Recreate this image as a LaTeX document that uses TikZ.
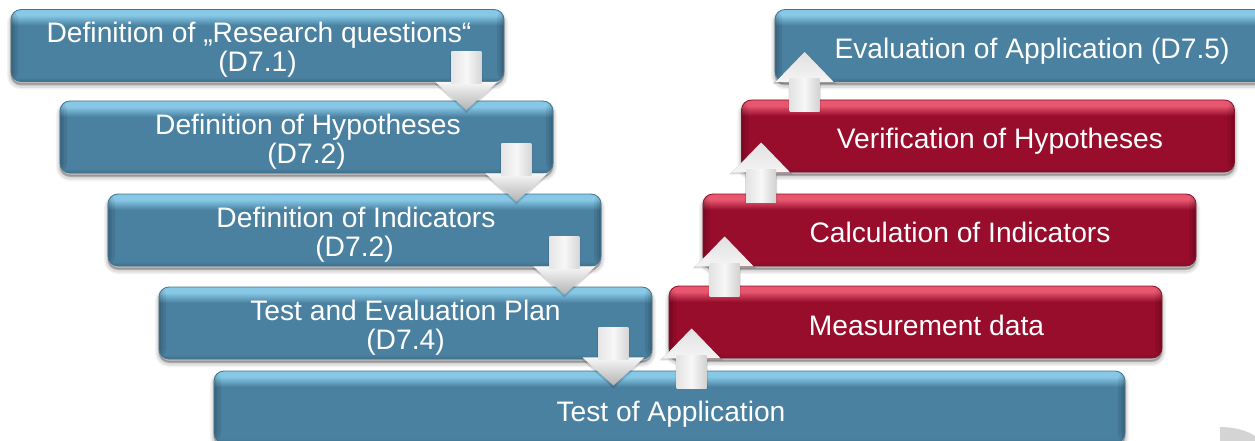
\documentclass[tikz,border=0pt]{standalone}
\usepackage{fontspec}
\setmainfont{Liberation Sans}
\usetikzlibrary{calc}
\definecolor{bluetop}{HTML}{86C8E6}
\definecolor{bluemid}{HTML}{4A80A0}
\definecolor{bluelow}{HTML}{3F6F8B}
\definecolor{blueedge}{HTML}{44748F}
\definecolor{redtop}{HTML}{E8566F}
\definecolor{redmid}{HTML}{980C2C}
\definecolor{redlow}{HTML}{7E1028}
\definecolor{rededge}{HTML}{8A1029}
\pgfdeclareverticalshading{bluebox}{100bp}{color(0bp)=(bluelow); color(25bp)=(bluelow); color(28bp)=(bluemid); color(64bp)=(bluemid); color(71bp)=(bluetop); color(75bp)=(bluetop); color(100bp)=(bluetop)}
\pgfdeclareverticalshading{redbox}{100bp}{color(0bp)=(redlow); color(25bp)=(redlow); color(28bp)=(redmid); color(64bp)=(redmid); color(71bp)=(redtop); color(75bp)=(redtop); color(100bp)=(redtop)}
\tikzset{
  softshadow/.style={
    preaction={draw=black,fill=black,opacity=.05,line width=8pt,transform canvas={yshift=-4pt}},
    preaction={draw=black,fill=black,opacity=.08,line width=5pt,transform canvas={yshift=-4pt}},
    preaction={draw=black,fill=black,opacity=.12,line width=2pt,transform canvas={yshift=-3pt}}},
  sideedge/.style={path picture={
    \foreach \w in {2,4,7}{
      \fill[black,opacity=.07] (path picture bounding box.north west) rectangle ([xshift=\w pt]path picture bounding box.south west);
      \fill[black,opacity=.07] (path picture bounding box.north east) rectangle ([xshift=-\w pt]path picture bounding box.south east);
    }}},
  basebox/.style={rounded corners=10pt,minimum width=493pt,minimum height=72pt,inner sep=0pt,
    align=center,text=white,font=\fontsize{28.2}{29}\selectfont,anchor=center,softshadow,sideedge},
  bluestep/.style={basebox,shading=bluebox,draw=blueedge,line width=.8pt},
  redstep/.style={basebox,shading=redbox,draw=rededge,line width=.8pt},
  arrowshadow/.style={fill=black,opacity=.15},
  downarrow/.pic={
    \fill[arrowshadow] (-16,-28)--(16,-28)--(16,2)--(32,2)--(0,31)--(-32,2)--(-16,2)--cycle;
    \shade[top color=black!3,bottom color=black!30] (-31,0)--(31,0)--(0,28)--cycle;
    \shade[left color=black!10,right color=black!16,middle color=black!3] (-15,-30)--(15,-30)--(15,2)--(-15,2)--cycle;
  },
  uparrow/.pic={
    \fill[arrowshadow] (-16,30)--(16,30)--(16,2)--(32,2)--(0,-28)--(-32,2)--(-16,2)--cycle;
    \shade[top color=black!12,bottom color=black!4] (-29,0)--(29,0)--(0,-30)--cycle;
    \shade[left color=black!11,right color=black!18,middle color=black!3] (-15,-3)--(15,-3)--(15,30)--(-15,30)--cycle;
  }
}
\begin{document}
\begin{tikzpicture}[x=1pt,y=-1pt]
\useasboundingbox (0,0) rectangle (1255,441);
\clip (0,0) rectangle (1255,441);
\fill[black!17] (1220,441)--(1220,427) .. controls (1235,427) and (1248,431) .. (1255,436)--(1255,441)--cycle;
\node[bluestep,minimum width=911pt] (b5) at (669.5,407) {\rule{0pt}{34pt}\hspace*{3pt}Test of Application};
\node[redstep] (r1) at (915.5,322) {\rule{0pt}{28pt}\hspace*{22pt}Measurement data};
\node[bluestep] (b4) at (405.5,323) {\rule{0pt}{30pt}Test and Evaluation  Plan\\(D7.4)};
\node[redstep] (r2) at (949.5,230) {\rule{0pt}{26pt}\hspace*{21pt}Calculation of Indicators};
\node[bluestep] (b3) at (354.5,230) {\rule{0pt}{30pt}\hspace*{3pt}Definition of Indicators\\(D7.2)};
\node[redstep] (r3) at (988,136) {\rule{0pt}{30pt}\hspace*{24pt}Verification of Hypotheses};
\node[bluestep] (b2) at (306.5,137) {\rule{0pt}{30pt}\hspace*{3pt}Definition of Hypotheses\\(D7.2)};
\node[bluestep] (b6) at (1021.5,45.5) {\rule{0pt}{32pt}\hspace*{21pt}Evaluation of Application  (D7.5)};
\node[bluestep] (b1) at (257.5,45.5) {\rule{0pt}{28pt}\hspace*{3pt}Definition of „Research questions“\\(D7.1)};
\pic at ([xshift=-38pt]b1.south east) {downarrow};
\pic at ([xshift=-37pt]b2.south east) {downarrow};
\pic at ([xshift=-37pt]b3.south east) {downarrow};
\pic at ([xshift=-39pt,yshift=2pt]b4.south east) {downarrow};
\pic at ([xshift=23pt]r1.south west) {uparrow};
\pic at ([xshift=22pt]r2.south west) {uparrow};
\pic at ([xshift=20pt]r3.south west) {uparrow};
\pic at ([xshift=30pt]b6.south west) {uparrow};
\end{tikzpicture}
\end{document}
